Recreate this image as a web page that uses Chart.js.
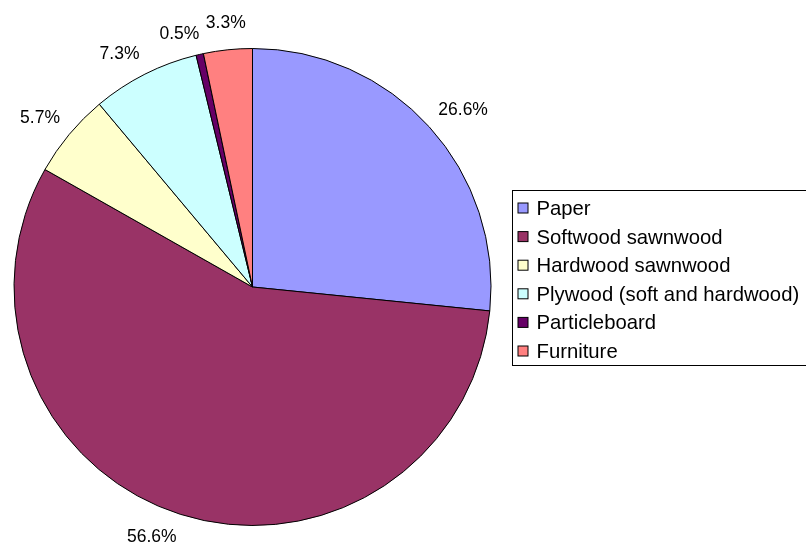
<!DOCTYPE html>
<html>
<head>
<meta charset="utf-8">
<script src="https://cdn.jsdelivr.net/npm/chart.js@4.4.1/dist/chart.umd.min.js"></script>
<style>
    body { margin: 0; background: #fff; }
    #wrap { width: 806px; height: 548px; }
</style>
</head>
<body>
<div id="wrap"><canvas id="pieChart" width="806" height="548"></canvas></div>
<script>
/* =========================
   DATA
========================= */

const categories = [
    "Paper",
    "Softwood sawnwood",
    "Hardwood sawnwood",
    "Plywood (soft and hardwood)",
    "Particleboard",
    "Furniture"
];

const shares = [26.6, 56.6, 5.7, 7.3, 0.5, 3.3];

const sliceColors = ["#9999FF", "#993366", "#FFFFCC", "#CCFFFF", "#660066", "#FF8080"];

const FONT = "'Liberation Sans', Arial, sans-serif";

/* =========================
   SLICE LABELS
========================= */

function clamp(v) {
    return Math.max(-1, Math.min(1, v));
}

function overlaps(a, b, pad) {
    return a.x - a.w / 2 < b.x + b.w / 2 + pad && b.x - b.w / 2 < a.x + a.w / 2 + pad &&
           a.y - a.h / 2 < b.y + b.h / 2 + pad && b.y - b.h / 2 < a.y + a.h / 2 + pad;
}

const sliceLabels = {
    id: "sliceLabels",
    afterDatasetsDraw(chart) {
        const ctx = chart.ctx;
        const meta = chart.getDatasetMeta(0);
        const size = 17.5;
        const h = 12;
        const placed = [];

        ctx.save();
        ctx.font = size + "px " + FONT;
        ctx.fillStyle = "#000";
        ctx.textAlign = "center";
        ctx.textBaseline = "middle";

        meta.data.forEach((arc, i) => {
            const p = arc.getProps(["x", "y", "startAngle", "endAngle", "outerRadius"], true);
            const mid = (p.startAngle + p.endAngle) / 2;
            const dx = Math.cos(mid);
            const dy = Math.sin(mid);
            const text = shares[i].toFixed(1) + "%";
            const w = ctx.measureText(text).width;

            // box corner nearest the pie sits just outside the rim
            const box = {
                w: w, h: h,
                x: p.x + dx * (p.outerRadius + 12) + clamp(dx * 4) * w / 2,
                y: p.y + dy * (p.outerRadius + 12) + clamp(dy * 4) * 10
            };
            // crowded labels slide outward and clockwise
            let guard = 0;
            while (placed.some(b => overlaps(b, box, 6)) && guard < 80) {
                box.x += dx * 0.6 - dy * 1;
                box.y += dy * 0.6 + dx * 1;
                guard++;
            }
            placed.push({ ...box });
            ctx.fillText(text, box.x, box.y + 1);
        });

        ctx.restore();
    }
};

/* =========================
   LEGEND BOX
========================= */

const boxLegend = {
    id: "boxLegend",
    afterDraw(chart) {
        const ctx = chart.ctx;
        const left = 512.5, top = 190.5, width = 300, height = 175;
        const step = 28.6;

        ctx.save();
        ctx.strokeStyle = "#000";
        ctx.lineWidth = 1;
        ctx.strokeRect(left, top, width, height);

        ctx.font = "20.3px " + FONT;
        ctx.textAlign = "left";
        ctx.textBaseline = "alphabetic";

        categories.forEach((name, i) => {
            const cy = 208 + i * step;
            ctx.fillStyle = sliceColors[i];
            ctx.fillRect(518, cy - 5, 10, 10);
            ctx.strokeRect(518, cy - 5, 10, 10);
            ctx.fillStyle = "#000";
            ctx.fillText(name, 536.5, cy + 7);
        });

        ctx.restore();
    }
};

/* =========================
   CHART
========================= */

new Chart(document.getElementById("pieChart"), {
    type: "pie",
    data: {
        labels: categories,
        datasets: [{
            data: shares,
            backgroundColor: sliceColors,
            borderColor: "#000",
            borderWidth: 1
        }]
    },
    options: {
        responsive: false,
        devicePixelRatio: 1,
        animation: false,
        layout: {
            padding: { left: 13, top: 48, right: 314, bottom: 22 }
        },
        plugins: {
            legend: { display: false },
            tooltip: { enabled: false }
        }
    },
    plugins: [sliceLabels, boxLegend]
});
</script>
</body>
</html>
